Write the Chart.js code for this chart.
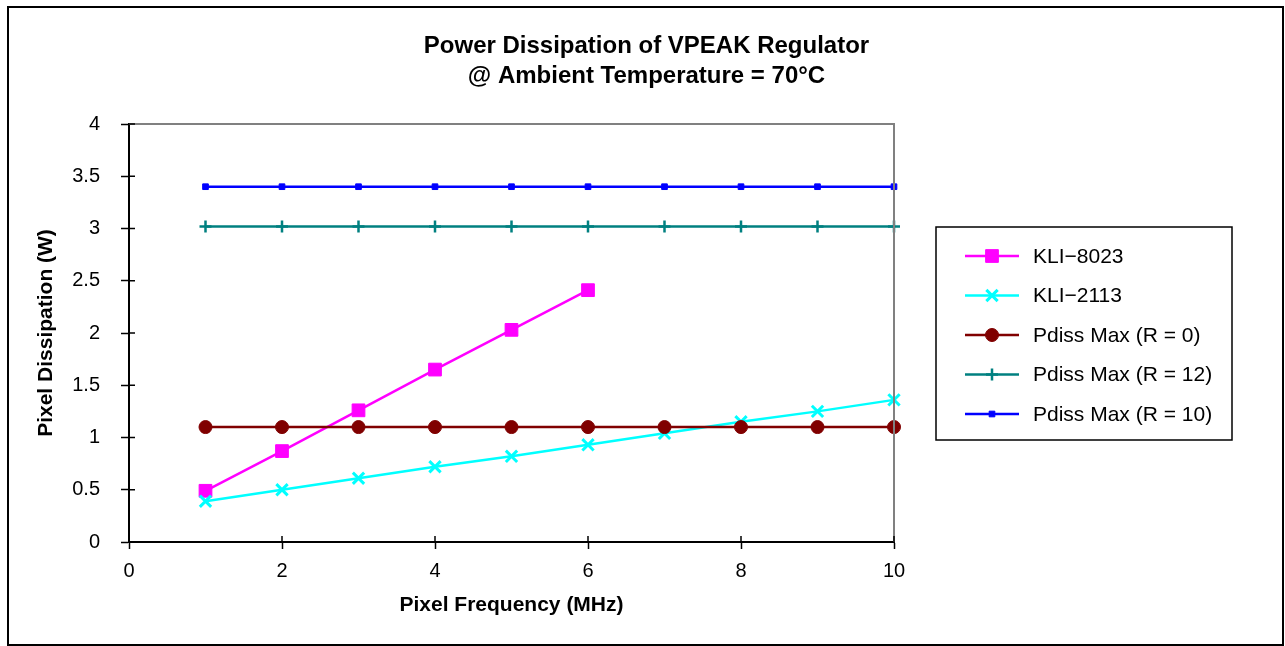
<!DOCTYPE html>
<html>
<head>
<meta charset="utf-8">
<title>Power Dissipation of VPEAK Regulator</title>
<script src="https://cdn.jsdelivr.net/npm/chart.js@4.4.1/dist/chart.umd.min.js"></script>
<style>
  html, body { margin: 0; padding: 0; background: #fff; }
  .chart-container { position: relative; width: 1285px; height: 646px; }
</style>
</head>
<body>
<div class="chart-container">
  <canvas id="chart"></canvas>
</div>
<script>
const FONT = '"Liberation Sans", Arial, Helvetica, sans-serif';

// pixel frequency (MHz)
const freqMHz = [1, 2, 3, 4, 5, 6, 7, 8, 9, 10];

// power dissipation (W)
const kli8023 = [0.49, 0.87, 1.26, 1.65, 2.03, 2.41];
const kli2113 = [0.39, 0.50, 0.61, 0.72, 0.82, 0.93, 1.04, 1.15, 1.25, 1.36];
const pdissR0 = [1.10, 1.10, 1.10, 1.10, 1.10, 1.10, 1.10, 1.10, 1.10, 1.10];
const pdissR12 = [3.02, 3.02, 3.02, 3.02, 3.02, 3.02, 3.02, 3.02, 3.02, 3.02];
const pdissR10 = [3.40, 3.40, 3.40, 3.40, 3.40, 3.40, 3.40, 3.40, 3.40, 3.40];

const xTickLabels = ['0', '2', '4', '6', '8', '10'];
const yTickLabels = ['0', '0.5', '1', '1.5', '2', '2.5', '3', '3.5', '4'];

const toPoints = vals => vals.map((v, i) => ({ x: freqMHz[i], y: v }));

const series = [
  { label: 'KLI\u22128023', data: kli8023, color: '#FF00FF', style: 'rect', radius: 9, pw: 1 },
  { label: 'KLI\u22122113', data: kli2113, color: '#00FFFF', style: 'crossRot', radius: 8, pw: 3 },
  { label: 'Pdiss Max (R = 0)', data: pdissR0, color: '#800000', style: 'circle', radius: 6.5, pw: 1 },
  { label: 'Pdiss Max (R = 12)', data: pdissR12, color: '#008080', style: 'cross', radius: 6, pw: 2.5 },
  { label: 'Pdiss Max (R = 10)', data: pdissR10, color: '#0000FF', style: 'rect', radius: 4, pw: 1 }
];

// outer frame, top/right plot border, inner half of tick marks
const framePlugin = {
  id: 'frame',
  afterDraw(chart) {
    const ctx = chart.ctx;
    const { left, right, top, bottom } = chart.chartArea;
    ctx.save();
    ctx.strokeStyle = '#808080';
    ctx.lineWidth = 2;
    ctx.beginPath();
    ctx.moveTo(left, top);
    ctx.lineTo(right, top);
    ctx.lineTo(right, bottom);
    ctx.stroke();

    ctx.strokeStyle = '#000';
    ctx.lineWidth = 1.5;
    ctx.beginPath();
    chart.scales.y.ticks.forEach(t => {
      const py = chart.scales.y.getPixelForValue(t.value);
      ctx.moveTo(left, py);
      ctx.lineTo(left + 6, py);
    });
    chart.scales.x.ticks.forEach(t => {
      const px = chart.scales.x.getPixelForValue(t.value);
      ctx.moveTo(px, bottom);
      ctx.lineTo(px, bottom - 6);
    });
    ctx.stroke();

    ctx.lineWidth = 2;
    ctx.strokeRect(8, 7, 1275, 638);
    ctx.restore();
  }
};

// boxed legend with line + marker samples
const boxLegend = {
  id: 'boxLegend',
  afterDraw(chart) {
    const ctx = chart.ctx;
    ctx.save();
    ctx.strokeStyle = '#000';
    ctx.lineWidth = 1.5;
    ctx.strokeRect(936, 227, 296, 213);
    series.forEach((s, i) => {
      const y = 256 + i * 39.5;
      ctx.strokeStyle = s.color;
      ctx.fillStyle = s.color;
      ctx.lineWidth = 2.5;
      ctx.beginPath();
      ctx.moveTo(965, y);
      ctx.lineTo(1019, y);
      ctx.stroke();
      ctx.lineWidth = s.pw;
      Chart.helpers.drawPoint(ctx, { pointStyle: s.style, radius: s.radius, rotation: 0, borderWidth: s.pw }, 992, y);
      ctx.fillStyle = '#000';
      ctx.font = '21px ' + FONT;
      ctx.textBaseline = 'middle';
      ctx.textAlign = 'left';
      ctx.fillText(s.label, 1033, y + 1);
    });
    ctx.restore();
  }
};

const ctx = document.getElementById('chart').getContext('2d');
new Chart(ctx, {
  type: 'line',
  data: {
    datasets: series.map((s, i) => ({
      label: s.label,
      data: toPoints(s.data),
      borderColor: s.color,
      backgroundColor: s.color,
      borderWidth: 2.5,
      pointStyle: s.style,
      pointRadius: s.radius,
      pointHoverRadius: s.radius,
      pointBorderWidth: s.pw,
      pointBorderColor: s.color,
      pointBackgroundColor: s.color,
      tension: 0,
      clip: false,
      order: series.length - i
    }))
  },
  options: {
    responsive: true,
    maintainAspectRatio: false,
    animation: false,
    layout: { padding: { left: 8, right: 0, top: 0, bottom: 20 } },
    plugins: {
      legend: { display: false },
      tooltip: { enabled: false },
      title: {
        display: true,
        text: ['Power Dissipation of VPEAK Regulator', '@ Ambient Temperature = 70\u00B0C'],
        color: '#000',
        font: { family: FONT, size: 24, weight: 'bold', lineHeight: 1.25 },
        padding: { top: 31, bottom: 33 }
      }
    },
    scales: {
      x: {
        type: 'linear',
        min: 0,
        max: 10,
        ticks: {
          stepSize: 2,
          color: '#000',
          font: { family: FONT, size: 20 },
          padding: 10,
          maxRotation: 0,
          callback: (v, i) => xTickLabels[i]
        },
        grid: { drawOnChartArea: false, tickLength: 7, tickColor: '#000', tickWidth: 1.5 },
        border: { color: '#000', width: 2 },
        title: {
          display: true,
          text: 'Pixel Frequency (MHz)',
          color: '#000',
          font: { family: FONT, size: 21, weight: 'bold' },
          padding: { top: 4, bottom: 8 }
        },
        afterFit: scale => { scale.height = 84; }
      },
      y: {
        min: 0,
        max: 4,
        ticks: {
          stepSize: 0.5,
          color: '#000',
          font: { family: FONT, size: 20 },
          padding: 21,
          callback: (v, i) => yTickLabels[i]
        },
        grid: { drawOnChartArea: false, tickLength: 8, tickColor: '#000', tickWidth: 1.5 },
        border: { color: '#000', width: 2 },
        title: {
          display: true,
          text: 'Pixel Dissipation (W)',
          color: '#000',
          font: { family: FONT, size: 21, weight: 'bold' },
          padding: { top: 26, bottom: 4 }
        },
        afterFit: scale => { scale.width = 121; }
      },
      // empty axis that reserves room for the boxed legend on the right
      legendSpace: {
        type: 'linear',
        position: 'right',
        min: 0,
        max: 4,
        ticks: { display: false },
        grid: { display: false },
        border: { display: false },
        afterFit: scale => { scale.width = 391; }
      }
    }
  },
  plugins: [framePlugin, boxLegend]
});
</script>
</body>
</html>
